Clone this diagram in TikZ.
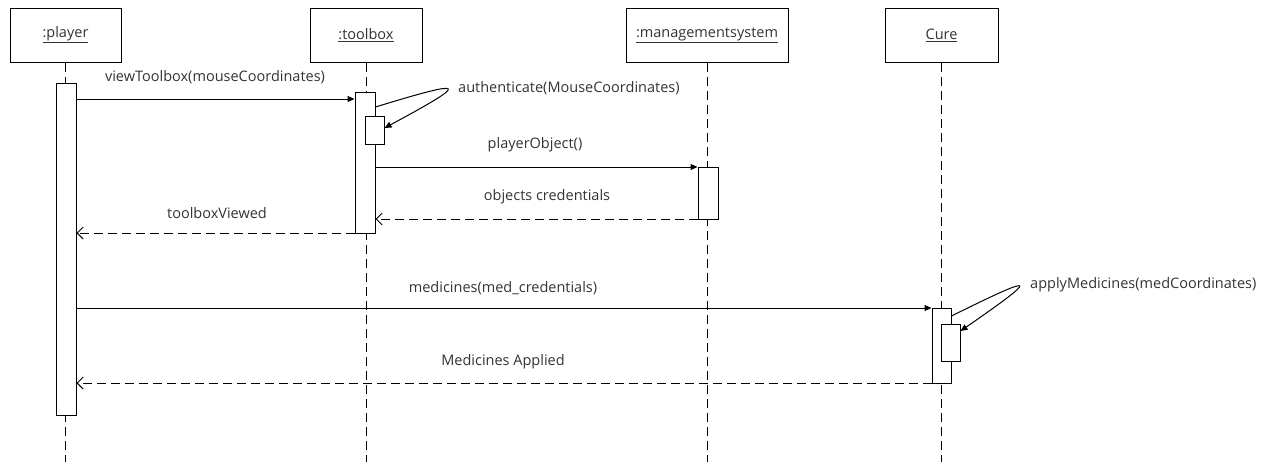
\documentclass[tikz,border=0pt]{standalone}
\usepackage{fontspec}
\setmainfont{Open Sans}
\usetikzlibrary{arrows.meta}
\begin{document}
\begin{tikzpicture}[x=1pt,y=-1pt,
  every node/.style={font=\fontsize{14.5}{17}\selectfont, text=black!80},
  head/.style={draw, line width=1pt, minimum height=54pt, inner sep=0pt, fill=white},
  life/.style={line width=1pt, dash pattern=on 9pt off 5pt},
  act/.style={draw, line width=1pt, fill=white, minimum width=20pt, inner sep=0pt},
  sync/.style={line width=1pt, -{Triangle[length=7pt,width=6pt]}},
  ret/.style={line width=1pt, dash pattern=on 9pt off 5pt, -{Straight Barb[length=6pt,width=12pt]}},
  lbl/.style={inner sep=0pt}]
\useasboundingbox (0,0) rectangle (1268,466);
% headers
\node[head, minimum width=111pt] (player) at (65.5,35) {\underline{:player}};
\node[head, minimum width=112pt] (toolbox) at (366,35) {\underline{:toolbox}};
\node[head, minimum width=162pt] (mgmt) at (707,35) {\underline{:managementsystem}};
\node[head, minimum width=113pt] (cure) at (941.5,35) {\underline{Cure}};
% lifeline ends
\coordinate (playerend) at (65.5,462);
\coordinate (toolboxend) at (366,462);
\coordinate (mgmtend) at (707,462);
\coordinate (cureend) at (941.5,462);
\draw[life] (player.south) -- (playerend);
\draw[life] (toolbox.south) -- (toolboxend);
\draw[life] (mgmt.south) -- (mgmtend);
\draw[life] (cure.south) -- (cureend);
% activations
\node[act, minimum height=332pt] (pa) at (66,249) {};
\node[act, minimum height=141pt] (ta) at (365,162.5) {};
\node[act, minimum width=19pt, minimum height=28pt] (tn) at (374.5,130) {};
\node[act, minimum height=52pt] (ma) at (708,193) {};
\node[act, minimum width=19pt, minimum height=75pt] (ca) at (941.5,345.5) {};
\node[act, minimum width=19pt, minimum height=37pt] (cn) at (950.5,342.5) {};
% messages
\draw[sync] (pa.east |- 0,99) -- (ta.west |- 0,99);
\node[lbl] (m1) at (215,77) {viewToolbox(mouseCoordinates)};
\draw[sync] (ta.east |- 0,107) .. controls (470,78) and (470,82) .. (tn.east |- 0,128);
\node[lbl, anchor=west] (m2) at (458,88) {authenticate(MouseCoordinates)};
\draw[sync] (ta.east |- 0,167) -- (ma.west |- 0,167);
\node[lbl] (m3) at (535,145) {playerObject()};
\draw[ret] (ma.west |- 0,219) -- (ta.east |- 0,219);
\node[lbl] (m4) at (547,197) {objects credentials};
\draw[ret] (ta.west |- 0,233) -- (pa.east |- 0,233);
\node[lbl] (m5) at (217,213) {toolboxViewed};
\draw[sync] (pa.east |- 0,308) -- (ca.west |- 0,308);
\node[lbl] (m6) at (503,288) {medicines(med\_credentials)};
\draw[sync] (ca.east |- 0,316) .. controls (1040,272) and (1040,276) .. (cn.east |- 0,331);
\node[lbl, anchor=west] (m7) at (1030,285) {applyMedicines(medCoordinates)};
\draw[ret] (ca.west |- 0,383) -- (pa.east |- 0,383);
\node[lbl] (m8) at (503,362) {Medicines Applied};
\end{tikzpicture}
\end{document}
